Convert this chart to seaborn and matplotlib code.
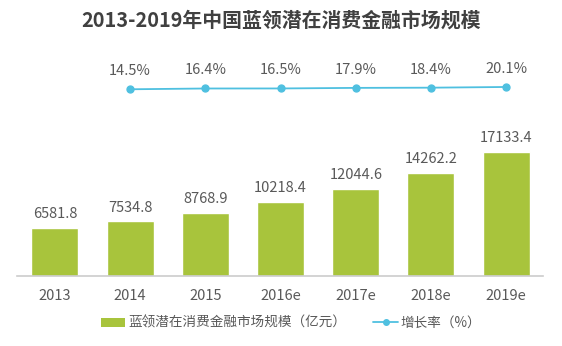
import matplotlib
matplotlib.use("Agg")
import matplotlib.pyplot as plt
import seaborn as sns
import pandas as pd
from matplotlib.patches import Patch
from matplotlib.lines import Line2D

years = ["2013", "2014", "2015", "2016e", "2017e", "2018e", "2019e"]
market = [6581.8, 7534.8, 8768.9, 10218.4, 12044.6, 14262.2, 17133.4]
growth_years = ["2014", "2015", "2016e", "2017e", "2018e", "2019e"]
growth = [14.5, 16.4, 16.5, 17.9, 18.4, 20.1]

title = "2013-2019年中国蓝领潜在消费金融市场规模"
bar_label = "蓝领潜在消费金融市场规模（亿元）"
line_label = "增长率（%）"

sns.set_theme(style="white")
plt.rcParams["font.family"] = ["Noto Sans CJK SC", "DejaVu Sans"]

BAR = "#a8c43c"
LINE = "#4fc0e0"
TXT = "#595959"

df_bar = pd.DataFrame({"year": years, "market": market})
df_line = pd.DataFrame({"year": growth_years, "rate": growth})

fig = plt.figure(figsize=(5.62, 3.46), dpi=100)
ax = fig.add_axes([17/562, 1-276/346, (543-17)/562, 216/346])

sns.barplot(data=df_bar, x="year", y="market", order=years, color=BAR,
            width=0.625, saturation=1, ax=ax)
ax.set_xlim(-0.505, 6.49)
ax.set_ylim(0, 29834)
for p, v in zip(ax.patches, market):
    ax.annotate(f"{v:.1f}", (p.get_x() + p.get_width()/2, p.get_height()),
                xytext=(0, 5), textcoords="offset points", ha="center",
                va="bottom", fontsize=10.5, color=TXT)

ax2 = ax.twinx()
sns.pointplot(data=df_line, x="year", y="rate", order=years, color=LINE,
              markers="o", markersize=5, linewidth=1.3, errorbar=None, ax=ax2)
ax2.set_ylim(-440.9, 85.9)
ax2.set_xlim(-0.505, 6.49)
for yr, v in zip(growth_years, growth):
    ax2.annotate(f"{v:.1f}%", (years.index(yr), v), xytext=(0, 8),
                 textcoords="offset points", ha="center", va="bottom",
                 fontsize=10.5, color=TXT)

for a in (ax, ax2):
    for s in ["top", "right", "left"]:
        a.spines[s].set_visible(False)
    a.set_yticks([])
    a.set_ylabel("")
    a.set_xlabel("")
ax2.spines["bottom"].set_visible(False)
ax2.tick_params(axis="x", length=0, labelbottom=False)
ax.spines["bottom"].set_color("#cccccc")
ax.spines["bottom"].set_linewidth(1.2)
ax.tick_params(axis="x", length=0, pad=9, labelsize=10.5, labelcolor=TXT)
ax.set_xticks(range(len(years)))
ax.set_xticklabels(years)

fig.text(0.5, 1-20/346, title, ha="center", va="center", fontsize=14.3,
         fontweight="bold", color="#404040")

handles = [Patch(facecolor=BAR, edgecolor="none"),
           Line2D([0], [0], color=LINE, marker="o", markersize=4, linewidth=1.3)]
fig.legend(handles, [bar_label, line_label], loc="center",
           bbox_to_anchor=(0.518, 1-323/346), ncol=2, frameon=False,
           fontsize=9.8, labelcolor=TXT, handlelength=1.8, handleheight=0.6,
           handletextpad=0.2, columnspacing=2.0)

fig.savefig("out.png", dpi=100)
